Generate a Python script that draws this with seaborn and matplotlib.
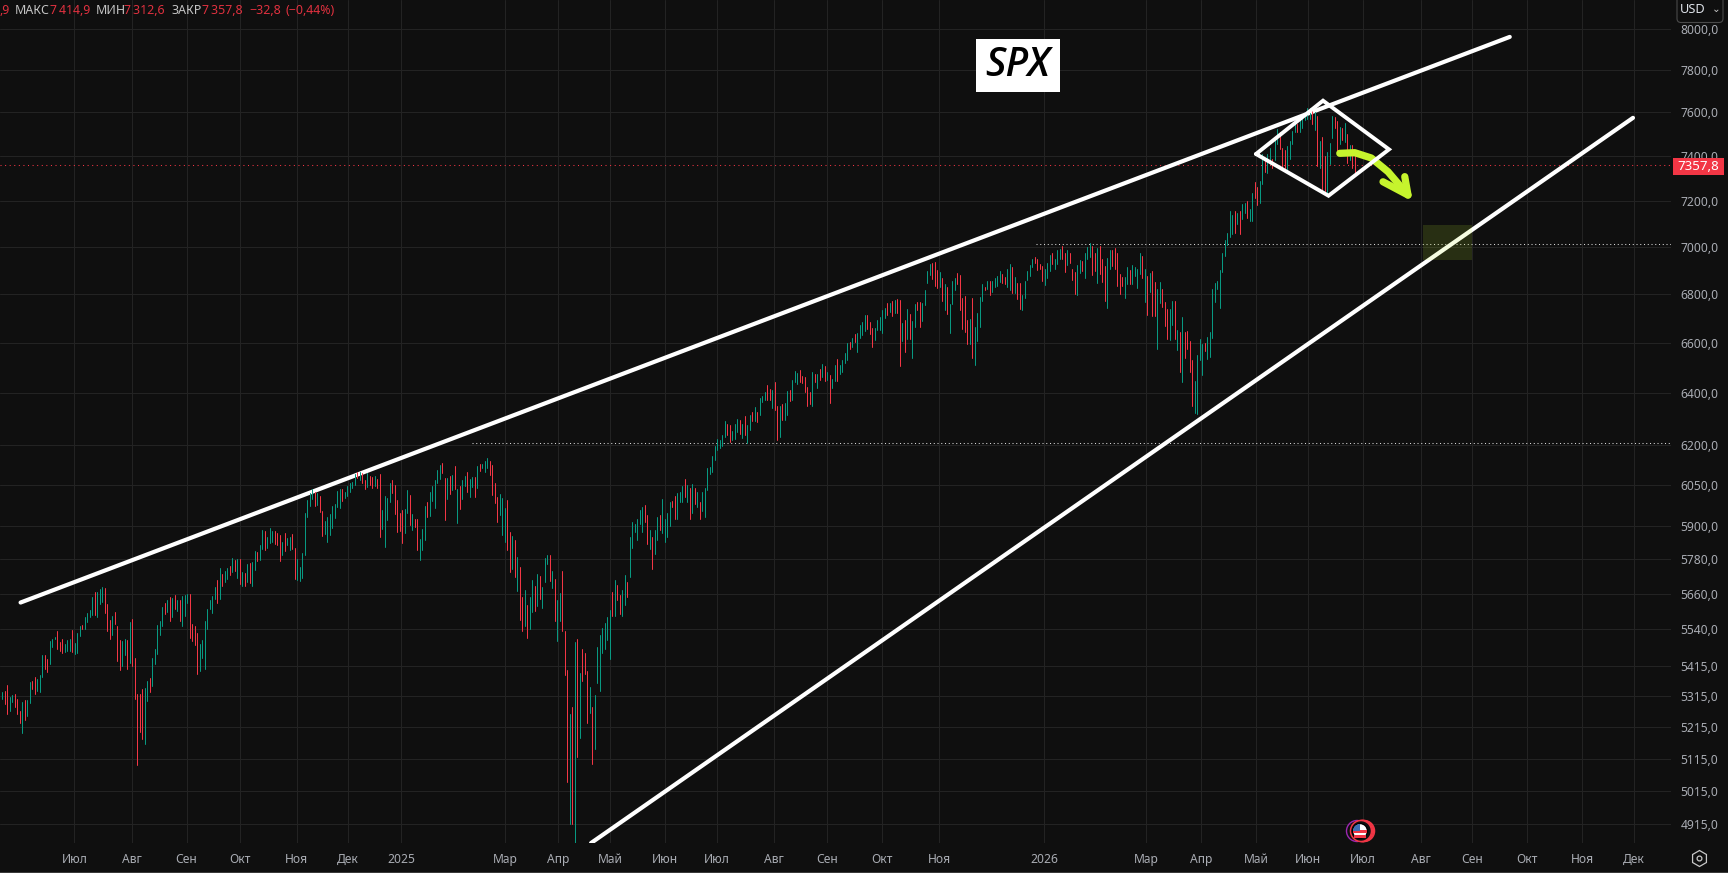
import matplotlib
matplotlib.use("Agg")
import matplotlib.pyplot as plt
import seaborn as sns
import pandas as pd
from matplotlib.patches import Rectangle, Circle, FancyBboxPatch, RegularPolygon, Wedge
from matplotlib.ticker import NullLocator, FixedLocator, FixedFormatter
from matplotlib.transforms import IdentityTransform

highs = [
 5329,5332,5351,5314,5319,5322,5306,5268,5297,5303,
 5303,5361,5364,5377,5371,5384,5450,5450,5436,5497,
 5506,5511,5531,5494,5504,5487,5500,5504,5534,5490,
 5524,5548,5551,5579,5593,5603,5647,5665,5665,5675,
 5682,5679,5623,5569,5582,5596,5548,5500,5497,5504,
 5500,5562,5572,5442,5322,5322,5338,5342,5364,5374,
 5442,5470,5551,5565,5613,5627,5637,5647,5644,5654,
 5637,5637,5651,5654,5658,5658,5555,5548,5524,5487,
 5500,5565,5606,5637,5651,5682,5707,5750,5728,5739,
 5750,5757,5785,5778,5781,5781,5735,5732,5764,5767,
 5771,5809,5806,5831,5884,5880,5859,5891,5880,5880,
 5873,5866,5841,5873,5855,5859,5869,5820,5781,5753,
 5803,5946,5993,6019,6033,6022,6019,6008,5953,5917,
 5931,5942,5972,5979,6026,6033,6033,6022,6047,6058,
 6062,6091,6096,6098,6095,6069,6095,6084,6080,6084,
 6073,6091,5957,6008,6000,6055,6066,6051,5993,5946,
 5957,5960,6029,6011,5942,5924,5924,5852,5888,5972,
 5986,6022,6047,6066,6106,6124,6130,6077,6077,6084,
 6088,6120,6033,6044,6069,6084,6098,6073,6080,6080,
 6120,6127,6127,6138,6149,6138,6124,6055,6004,6015,
 6000,5965,5993,5877,5863,5849,5788,5753,5648,5672,
 5620,5648,5707,5686,5729,5722,5683,5785,5796,5796,
 5739,5710,5638,5661,5739,5531,5401,5257,5280,5494,
 5504,5391,5471,5457,5398,5345,5280,5319,5477,5518,
 5541,5558,5578,5605,5665,5706,5689,5654,5671,5725,
 5700,5861,5912,5908,5926,5958,5970,5977,5940,5884,
 5859,5884,5930,5940,5996,5923,5948,5988,5992,6008,
 6019,6022,6045,6071,6049,6038,6053,6038,6022,5988,
 6022,6038,6112,6116,6157,6194,6224,6220,6239,6291,
 6280,6276,6252,6280,6299,6295,6280,6311,6276,6315,
 6327,6346,6327,6382,6390,6405,6433,6417,6413,6445,
 6350,6350,6358,6362,6409,6413,6452,6487,6480,
 6491,6468,6464,6425,6405,6484,6476,6476,6496,6516,
 6508,6484,6472,6456,6511,6535,6511,6531,6558,6598,
 6602,6618,6635,6639,6673,6685,6715,6715,6685,6660,
 6660,6694,6706,6732,6744,6761,6761,6769,6774,6778,
 6774,6681,6694,6736,6719,6690,6757,6765,6765,6761,
 6816,6897,6927,6931,6935,6901,6892,6866,6841,6828,
 6757,6853,6866,6888,6880,6782,6790,6693,6697,6782,
 6663,6722,6786,6840,6828,6856,6856,6856,6869,6877,
 6897,6885,6873,6905,6926,6913,6873,6848,6844,6794,
 6856,6897,6922,6947,6955,6947,6926,6917,6905,6930,
 6963,6971,6947,6984,6992,7004,6971,6988,6975,6905,
 6893,6922,6943,6938,6971,7000,7016,7004,6971,6996,
 7004,6947,6917,6951,6984,6988,6996,6975,6885,6873,
 6873,6913,6901,6922,6913,6905,6971,6959,6905,
 6877,6889,6897,6852,6819,6852,6823,6765,6736,6736,
 6769,6773,6651,6642,6705,6642,6646,6608,6530,6447,
 6550,6617,6596,6600,6625,6642,6819,6848,6856,6901,
 6975,7030,7058,7155,7138,7155,7147,7155,7187,7191,
 7200,7165,7233,7282,7259,7289,7409,7391,7409,7436,7386,
 7477,7523,7509,7436,7427,7445,7468,7514,7555,7545,
 7568,7582,7600,7623,7623,7618,7600,7582,7468,7486,
 7400,7418,7459,7582,7577,7559,7532,7527,7550,7500,
 7450,7450,7414.9,
]
lows = [
 5307,5291,5259,5268,5297,5281,5259,5230,5198,5239,
 5252,5294,5338,5322,5332,5329,5377,5403,5393,5420,
 5477,5504,5470,5463,5457,5460,5466,5463,5460,5453,
 5457,5514,5538,5538,5562,5579,5586,5586,5579,5623,
 5630,5593,5531,5504,5517,5555,5430,5400,5413,5450,
 5406,5423,5416,5306,5096,5201,5178,5163,5300,5329,
 5348,5420,5453,5517,5548,5589,5596,5565,5579,5606,
 5599,5565,5548,5582,5627,5507,5497,5484,5387,5397,
 5442,5406,5538,5606,5593,5641,5627,5641,5686,5700,
 5711,5725,5735,5739,5714,5693,5686,5686,5700,5696,
 5686,5742,5774,5778,5816,5813,5820,5838,5841,5834,
 5831,5774,5795,5809,5831,5813,5816,5711,5707,5704,
 5714,5796,5931,5972,5997,5972,5975,5950,5863,5870,
 5841,5866,5892,5928,5968,5965,5990,6000,6008,6022,
 6037,6051,6074,6066,6055,6033,6040,6051,6037,6044,
 6037,5860,5888,5824,5920,5986,6019,5942,5877,5881,
 5838,5874,5946,5902,5884,5895,5813,5778,5813,5849,
 5931,5934,5990,5965,6058,6073,6095,5920,5997,6015,
 6030,6033,5910,5960,5997,6047,6022,6004,6040,6004,
 6037,6102,6113,6098,6113,6088,6011,5983,5913,5938,
 5866,5841,5813,5736,5746,5718,5668,5569,5531,5548,
 5508,5538,5596,5600,5616,5641,5610,5700,5764,5703,
 5680,5566,5499,5566,5531,5385,5043,4915,4915,4830,
 5120,5182,5365,5388,5227,5262,5100,5146,5358,5332,
 5457,5471,5501,5437,5582,5582,5637,5589,5582,5620,
 5648,5718,5821,5877,5850,5905,5877,5912,5835,5816,
 5745,5798,5850,5884,5873,5843,5859,5901,5967,5923,
 5923,5985,5985,6005,5985,5923,5948,5979,5970,5923,
 5955,5930,6030,6090,6097,6142,6179,6187,6194,6229,
 6237,6209,6217,6221,6248,6241,6225,6237,6205,6256,
 6291,6291,6288,6315,6366,6374,6374,6374,6343,6335,
 6217,6229,6295,6295,6315,6370,6374,6445,6437,
 6445,6440,6405,6350,6358,6350,6445,6421,6452,6464,
 6449,6452,6362,6421,6449,6449,6476,6484,6519,6531,
 6574,6582,6602,6562,6618,6631,6648,6656,6635,6582,
 6611,6652,6652,6639,6702,6715,6727,6711,6723,6723,
 6508,6606,6562,6614,6614,6539,6664,6732,6664,6690,
 6753,6845,6880,6863,6833,6824,6828,6769,6732,6719,
 6639,6757,6816,6841,6732,6655,6642,6596,6596,6538,
 6511,6608,6663,6769,6815,6819,6794,6807,6828,6832,
 6852,6844,6840,6828,6815,6803,6803,6778,6736,6732,
 6782,6860,6877,6913,6930,6901,6905,6856,6836,6869,
 6897,6926,6905,6926,6947,6947,6893,6922,6930,6860,
 6799,6794,6889,6897,6865,6947,6955,6881,6897,6848,
 6885,6852,6773,6740,6905,6917,6905,6832,6799,6832,
 6782,6840,6840,6840,6877,6824,6885,6865,6765,
 6714,6807,6710,6710,6575,6761,6748,6669,6617,6613,
 6672,6617,6569,6483,6443,6538,6573,6483,6351,6322,
 6318,6530,6471,6565,6534,6542,6621,6765,6819,6740,
 6893,6959,7008,7040,7055,7058,7098,7055,7120,7147,
 7125,7111,7112,7210,7182,7191,7276,7329,7324,7364,7346,
 7382,7455,7432,7350,7341,7337,7386,7455,7509,7509,
 7509,7527,7564,7568,7568,7545,7518,7355,7346,7249,
 7244,7231,7364,7482,7527,7423,7455,7473,7464,7369,
 7382,7346,7312.6,
]
dirs = "".join([
 "grrggrrrgr","ggrrgggrrg","ggrrrgggrg","ggrggggrgg","grrrgrrrgg",
 "rgrrrrrggr","gggggrgrgr","grgggrrrrg","ggggggrgrg","grgrgrgrgr",
 "ggrggrgggr","rrgrggrrgg","gggggrgrrg","ggggggrggg","ggrgrrgrrg",
 "rrggggrrrr","rggrgrrggg","rgggggrrgr","grgrggrggr","grgggrrrrg",
 "ggrrgrgrrg","rggrgrgggr","grggrrrgrg","rgrrrgrggg","ggggrgrrgg",
 "rggggggrrg","rggrggggrr","gggrgrgrgr","gggggggggg","rrgggrgrgg",
 "rgrgggrrgr","rgrggrggg","rrrrrgrgrg","rgrggrgggg","rgrggggrrr",
 "gggggrgrgr","rgrgrggrrg","gggrrrgrgr","gggrrrrrgr","ggggrgrggg",
 "grrggrgrrg","ggggrrrrgg","grgggrrgrr","rggrgggrrg","rrrggrrrrr",
 "ggrggggrg","rgrrggrrrg","grgrgrrrrg","gggrgggggg","gggggrgrgg",
 "rggrrggrggr","ggrrrggggr","gggggrgrgr","rgggrrgrgr","grr",
])
assert len(highs) == len(lows) == len(dirs), (len(highs), len(lows), len(dirs))

bars = pd.DataFrame({"bar": range(len(highs)), "high": highs, "low": lows, "dir": list(dirs)})
long_df = bars.melt(id_vars=["bar", "dir"], value_vars=["low", "high"], value_name="price")

price_ticks = [8000,7800,7600,7400,7200,7000,6800,6600,6400,6200,6050,5900,5780,5660,5540,5415,5315,5215,5115,5015,4915]
price_labels = [f"{p},0" for p in price_ticks]
month_pos = [28.8,51.7,73.7,94.9,117.7,138.3,159.6,201.2,222.4,243.2,265.2,286,308.8,330,352,374.8,416.8,457.6,479.6,501.6,522.4,544.4,567.3,588,610,632,652.8]
month_labels = ["Июл","Авг","Сен","Окт","Ноя","Дек","2025","Мар","Апр","Май","Июн","Июл","Авг","Сен","Окт","Ноя","2026","Мар","Апр","Май","Июн","Июл","Авг","Сен","Окт","Ноя","Дек"]
upper_x, upper_y = [7.3, 603], [5629, 7960]
lower_x, lower_y = [235.5, 652.3], [4858, 7575]
diamond_x, diamond_y = [501.5, 528.3, 554.7, 530.5, 501.5], [7409, 7655, 7430, 7222, 7409]
arrow_x, arrow_y = [535, 541, 547.6, 554.3, 562.3], [7412, 7415, 7391, 7329, 7225]
head_x, head_y = [552.3, 562.3, 561], [7284, 7225, 7307]
level_hi, level_hi_x = 7010, [413.5, 667.5]
level_lo, level_lo_x = 6208, [188, 667.5]
last_close = 7357.8
box_x, box_y = [568.3, 588], [6943, 7094]

BG = "#0f0f0f"; GRID = "#232323"; TXT = "#a9acb3"; UP = "#089981"; DN = "#f23645"; LIME = "#c6f42d"
sns.set_theme(style="darkgrid", rc={"axes.facecolor": BG, "figure.facecolor": BG, "grid.color": GRID})
plt.rcParams["font.family"] = ["Noto Sans", "DejaVu Sans"]

W, H = 1728, 873
fig = plt.figure(figsize=(W/100, H/100), dpi=100, facecolor=BG)
ax = fig.add_axes([0, (H-843)/H, 1671/W, 843/H], facecolor=BG)
ax.set_yscale("log")
sns.lineplot(data=long_df, x="bar", y="price", hue="dir", units="bar", estimator=None,
             palette={"g": UP, "r": DN}, legend=False, lw=0.72, ax=ax, sort=False, zorder=5)
ax.set_xlim(-0.93, 667.5)
ax.set_ylim(4858, 8142)
ax.yaxis.set_major_locator(FixedLocator(price_ticks))
ax.yaxis.set_major_formatter(FixedFormatter(price_labels))
ax.yaxis.set_minor_locator(NullLocator())
ax.yaxis.tick_right()
ax.set_xticks(month_pos); ax.set_xticklabels(month_labels)
ax.set_xlabel(""); ax.set_ylabel("")
ax.grid(True, color=GRID, lw=0.75)
ax.set_axisbelow(True)
ax.tick_params(axis="y", length=0, pad=7, labelsize=8.7, labelcolor=TXT)
ax.tick_params(axis="x", length=0, pad=7.5, labelsize=8.7, labelcolor=TXT)
for t in ax.get_xticklabels():
    if t.get_text() in ("2025", "2026"):
        t.set_fontweight("bold")
for s in ax.spines.values():
    s.set_visible(False)

ax.plot(level_hi_x, [level_hi]*2, color="#d8d8d8", lw=0.75, ls=(0, (1, 2.6)), zorder=3)
ax.plot(level_lo_x, [level_lo]*2, color="#d8d8d8", lw=0.75, ls=(0, (1, 2.6)), zorder=3)
ax.plot([-0.93, 667.5], [last_close]*2, color=DN, lw=0.75, ls=(0, (1, 3.4)), zorder=3)
for xs, ys in [(upper_x, upper_y), (lower_x, lower_y)]:
    ax.plot(xs, ys, color="white", lw=3.0, solid_capstyle="round", zorder=4)
ax.plot(arrow_x, arrow_y, color=LIME, lw=5.2, solid_capstyle="round", solid_joinstyle="round", zorder=6)
ax.plot(head_x, head_y, color=LIME, lw=5.2, solid_capstyle="round", solid_joinstyle="round", zorder=6)
ax.plot(diamond_x, diamond_y, color="white", lw=2.8, solid_joinstyle="miter", zorder=7)
ax.add_patch(Rectangle((box_x[0], box_y[0]), box_x[1]-box_x[0], box_y[1]-box_y[0],
                       facecolor=LIME, alpha=0.14, edgecolor="none", zorder=8))

idt = IdentityTransform()
def ftext(x, y, s, **kw):
    kw.setdefault("va", "center"); kw.setdefault("ha", "left")
    return fig.text(x/W, 1-y/H, s, zorder=12, **kw)
def fadd(p):
    p.set_transform(idt); fig.add_artist(p); return p

# SPX label
fadd(Rectangle((976, H-92), 84, 53, facecolor="white", edgecolor="none", zorder=10))
ftext(1018, 65.5, "SPX", ha="center", fontsize=28.5, fontstyle="italic", fontweight=600, color="black", family=["Open Sans", "Noto Sans"])

# price tag
fadd(Rectangle((1673, H-175), 51, 17, facecolor=DN, edgecolor="none", zorder=10))
ftext(1698.5, 166, "7357,8", ha="center", fontsize=9.6, fontweight="bold", color="white")

# currency button
fadd(FancyBboxPatch((1677, H-22.5), 46, 30, boxstyle="round,pad=0,rounding_size=4", facecolor=BG, edgecolor="#4a4a4a", lw=0.8, zorder=10))
ftext(1680, 9.5, "USD", fontsize=9.2, color="#dfe3ea")
ftext(1716, 9.5, "⌄", ha="center", fontsize=7.5, color="#c8c8c8", family=["DejaVu Sans"])

# header
RED = "#e0313f"; LBL = "#c4c4c4"; fs = 8.9
for x, s, c in [(0, ",9", RED), (15, "МАКС", LBL), (50, "7\u2009414,9", RED), (96, "МИН", LBL), (124, "7\u2009312,6", RED),
                (171, "ЗАКР", LBL), (202, "7\u2009357,8", RED), (249, "−32,8", RED), (286, "(−0,44%)", RED)]:
    ftext(x, 10, s, fontsize=fs, color=c)

# flag marker
fx, fy = 1360, H-831
fadd(Circle((fx-3, fy), 10.5, facecolor="none", edgecolor="#9c27b0", lw=1.0, zorder=10))
for dx in (4, 3, 2, 1):
    fadd(Circle((fx+dx, fy), 10.5, facecolor=BG, edgecolor=DN, lw=1.1, zorder=10))
fadd(Circle((fx, fy), 7.5, facecolor="white", edgecolor="black", lw=1.0, zorder=11))
fadd(Rectangle((fx-6, fy-7), 12, 3, facecolor=DN, edgecolor="none", zorder=11))
fadd(Rectangle((fx-7, fy-1.5), 14, 2.5, facecolor=DN, edgecolor="none", zorder=11))
fadd(Wedge((fx, fy), 7, 90, 180, facecolor="#3c6fb5", edgecolor="none", zorder=11))

# settings hexagon
fadd(RegularPolygon((1699.5, H-858.5), 6, radius=8, facecolor="none", edgecolor="#c8c8c8", lw=0.9, zorder=10))
fadd(Circle((1699.5, H-858.5), 2.4, facecolor="none", edgecolor="#c8c8c8", lw=0.9, zorder=10))

# bottom edge
fadd(Rectangle((0, 0), W, 1.5, facecolor="#3a3a3a", edgecolor="none", zorder=10))

fig.savefig("out.png", dpi=100, facecolor=BG)
